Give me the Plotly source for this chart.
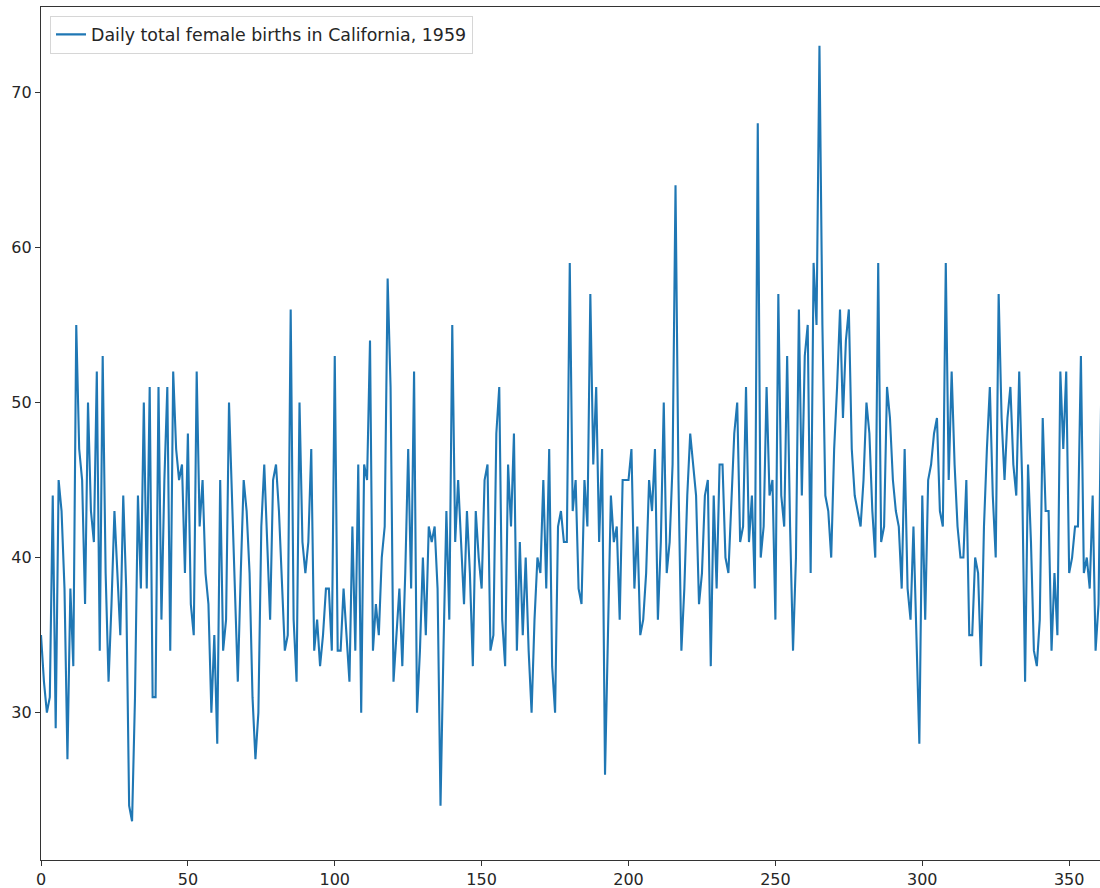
import plotly.graph_objects as go

births = [
    35, 32, 30, 31, 44, 29, 45, 43, 38, 27,
    38, 33, 55, 47, 45, 37, 50, 43, 41, 52,
    34, 53, 39, 32, 37, 43, 39, 35, 44, 38,
    24, 23, 31, 44, 38, 50, 38, 51, 31, 31,
    51, 36, 45, 51, 34, 52, 47, 45, 46, 39,
    48, 37, 35, 52, 42, 45, 39, 37, 30, 35,
    28, 45, 34, 36, 50, 44, 39, 32, 39, 45,
    43, 39, 31, 27, 30, 42, 46, 41, 36, 45,
    46, 43, 38, 34, 35, 56, 36, 32, 50, 41,
    39, 41, 47, 34, 36, 33, 35, 38, 38, 34,
    53, 34, 34, 38, 35, 32, 42, 34, 46, 30,
    46, 45, 54, 34, 37, 35, 40, 42, 58, 51,
    32, 35, 38, 33, 39, 47, 38, 52, 30, 34,
    40, 35, 42, 41, 42, 38, 24, 34, 43, 36,
    55, 41, 45, 41, 37, 43, 39, 33, 43, 40,
    38, 45, 46, 34, 35, 48, 51, 36, 33, 46,
    42, 48, 34, 41, 35, 40, 34, 30, 36, 40,
    39, 45, 38, 47, 33, 30, 42, 43, 41, 41,
    59, 43, 45, 38, 37, 45, 42, 57, 46, 51,
    41, 47, 26, 35, 44, 41, 42, 36, 45, 45,
    45, 47, 38, 42, 35, 36, 39, 45, 43, 47,
    36, 41, 50, 39, 41, 46, 64, 45, 34, 38,
    44, 48, 46, 44, 37, 39, 44, 45, 33, 44,
    38, 46, 46, 40, 39, 44, 48, 50, 41, 42,
    51, 41, 44, 38, 68, 40, 42, 51, 44, 45,
    36, 57, 44, 42, 53, 42, 34, 40, 56, 44,
    53, 55, 39, 59, 55, 73, 55, 44, 43, 40,
    47, 51, 56, 49, 54, 56, 47, 44, 43, 42,
    45, 50, 48, 43, 40, 59, 41, 42, 51, 49,
    45, 43, 42, 38, 47, 38, 36, 42, 35, 28,
    44, 36, 45, 46, 48, 49, 43, 42, 59, 45,
    52, 46, 42, 40, 40, 45, 35, 35, 40, 39,
    33, 42, 47, 51, 44, 40, 57, 49, 45, 49,
    51, 46, 44, 52, 45, 32, 46, 41, 34, 33,
    36, 49, 43, 43, 34, 39, 35, 52, 47, 52,
    39, 40, 42, 42, 53, 39, 40, 38, 44, 34,
    37, 52, 48, 55, 50,
]
days = list(range(len(births)))
series_name = "Daily total female births in California, 1959"
x_ticks = [0, 50, 100, 150, 200, 250, 300, 350]
y_ticks = [30, 40, 50, 60, 70]

fig = go.Figure()
fig.add_trace(go.Scatter(
    x=days, y=births, mode="lines", name=series_name,
    line=dict(color="#1f77b4", width=2.1),
    showlegend=True,
))

fig.update_layout(
    width=1100, height=888,
    margin=dict(l=41, r=0, t=7, b=28),
    paper_bgcolor="white", plot_bgcolor="white",
    font=dict(family="DejaVu Sans", size=16, color="#262626"),
    showlegend=True,
    legend=dict(
        x=0.0085, y=0.99, xanchor="left", yanchor="top",
        bgcolor="rgba(255,255,255,0.8)", bordercolor="#d6d6d6", borderwidth=1,
        font=dict(family="DejaVu Sans", size=17.4, color="#262626"),
    ),
    xaxis=dict(
        range=[0, 360.5], tickvals=x_ticks, ticktext=[str(v) for v in x_ticks],
        showgrid=False, zeroline=False, automargin=False,
        showline=True, linecolor="#333", linewidth=1.2, mirror=True,
        ticks="outside", ticklen=5, tickcolor="#333", tickwidth=1.2,
        tickfont=dict(size=16),
    ),
    yaxis=dict(
        range=[20.5, 75.5], tickvals=y_ticks, ticktext=[str(v) for v in y_ticks],
        showgrid=False, zeroline=False, automargin=False,
        showline=True, linecolor="#333", linewidth=1.2, mirror=False,
        ticks="outside", ticklen=5, tickcolor="#333", tickwidth=1.2,
        tickfont=dict(size=16),
    ),
)

fig.write_html(
    "out.html",
    config={"displayModeBar": False},
    post_script="document.body.style.margin='0';document.body.style.padding='0';document.body.style.overflow='hidden';",
)
